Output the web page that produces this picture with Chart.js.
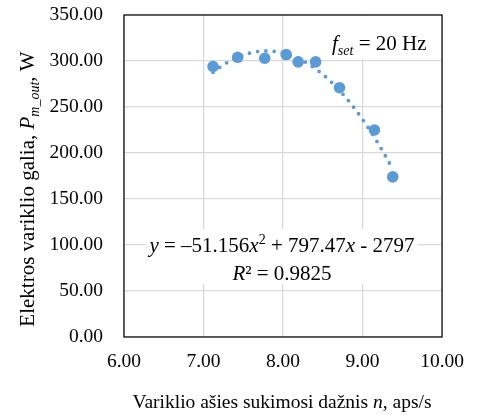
<!DOCTYPE html>
<html><head><meta charset="utf-8">
<script src="https://cdn.jsdelivr.net/npm/chart.js@4"></script>
<style>html,body{margin:0;padding:0;background:#fff}</style>
</head><body>
<canvas id="c" width="477" height="415"></canvas>
<script>
// Measured motor output power vs. shaft rotation frequency (f_set = 20 Hz)
const speedN = [7.12, 7.43, 7.77, 8.04, 8.19, 8.41, 8.71, 9.15, 9.38];
const powerW = [294, 304, 303, 307, 299, 299, 271, 225, 174];
// Quadratic trendline y = a·x² + b·x + c and its R²
const trendCoef = [-51.156, 797.47, -2797];
const trendR2 = 0.9825;
const xTicks = [6, 7, 8, 9, 10];
const yTicks = [0, 50, 100, 150, 200, 250, 300, 350];

const FONT = "'Liberation Serif','Times New Roman',serif";
const FS_TICK = 19.5;
const FS_NOTE = 21;
const BLUE = '#5B9BD5';
const fnt = (s, it) => (it ? 'italic ' : '') + s + 'px ' + FONT;

const trendPts = [];
{
  const x0 = Math.min(...speedN), x1 = Math.max(...speedN), steps = 80;
  for (let i = 0; i <= steps; i++) {
    const x = x0 + (x1 - x0) * i / steps;
    trendPts.push({x, y: trendCoef[0] * x * x + trendCoef[1] * x + trendCoef[2]});
  }
}

function richWidth(ctx, parts, base) {
  let w = 0;
  for (const p of parts) { ctx.font = fnt(p.s || base, p.i); w += ctx.measureText(p.t).width; }
  return w;
}
function drawRich(ctx, parts, x, y, base) {
  for (const p of parts) {
    ctx.font = fnt(p.s || base, p.i);
    ctx.fillText(p.t, x, y + (p.dy || 0));
    x += ctx.measureText(p.t).width;
  }
}

const eqParts = [
  {t: 'y', i: true}, {t: ' = –' + Math.abs(trendCoef[0]).toFixed(3)}, {t: 'x', i: true},
  {t: '2', s: 14, dy: -8}, {t: ' + ' + trendCoef[1].toFixed(2)}, {t: 'x', i: true},
  {t: ' - ' + Math.abs(trendCoef[2])}
];
const r2Parts = [{t: 'R', i: true}, {t: '²'}, {t: ' = ' + trendR2}];
const fsetParts = [{t: 'f', i: true}, {t: 'set', i: true, s: 14, dy: 5}, {t: ' = 20 Hz'}];
const xTitleParts = [{t: 'Variklio ašies sukimosi dažnis '}, {t: 'n', i: true}, {t: ', aps/s'}];
const yTitleParts = [{t: 'Elektros variklio galia, '}, {t: 'P', i: true}, {t: 'm_out', i: true, s: 14, dy: 5}, {t: ', W'}];

const decor = {
  id: 'decor',
  beforeDatasetsDraw(chart) {
    const {ctx, chartArea: ca} = chart;
    ctx.save();
    // plot frame
    ctx.strokeStyle = '#000';
    ctx.lineWidth = 1.2;
    ctx.strokeRect(ca.left, ca.top, ca.right - ca.left, ca.bottom - ca.top);
    ctx.textBaseline = 'alphabetic';
    // trendline label on a white box
    const cx = ca.left + 158;
    const y1 = ca.top + 237, y2 = ca.top + 265;
    const w1 = richWidth(ctx, eqParts, FS_NOTE), w2 = richWidth(ctx, r2Parts, FS_NOTE);
    ctx.fillStyle = '#fff';
    ctx.fillRect(cx - w1 / 2 - 3, y1 - 23, w1 + 6, 55);
    ctx.fillStyle = '#000';
    drawRich(ctx, eqParts, cx - w1 / 2, y1, FS_NOTE);
    drawRich(ctx, r2Parts, cx - w2 / 2, y2, FS_NOTE);
    // set frequency label
    const fx = ca.left + 208, fy = ca.top + 35;
    const wf = richWidth(ctx, fsetParts, FS_NOTE);
    ctx.fillStyle = '#fff';
    ctx.fillRect(fx - 4, ca.top + 1, wf + 8, 43);
    ctx.fillStyle = '#000';
    drawRich(ctx, fsetParts, fx, fy, FS_NOTE);
    ctx.restore();
  },
  afterDraw(chart) {
    const {ctx} = chart;
    ctx.save();
    ctx.fillStyle = '#000';
    const wx = richWidth(ctx, xTitleParts, 19.5);
    drawRich(ctx, xTitleParts, 282 - wx / 2, 408, 19.5);
    const wy = richWidth(ctx, yTitleParts, 21);
    ctx.translate(34, 189);
    ctx.rotate(-Math.PI / 2);
    drawRich(ctx, yTitleParts, -wy / 2, 0, 21);
    ctx.restore();
  }
};

new Chart(document.getElementById('c'), {
  type: 'scatter',
  data: {
    datasets: [
      {
        data: speedN.map((x, i) => ({x, y: powerW[i]})),
        backgroundColor: BLUE, borderColor: BLUE,
        pointRadius: 5.8, pointHoverRadius: 5.8, borderWidth: 0, order: 2
      },
      {
        type: 'line', data: trendPts, showLine: true, pointRadius: 0,
        borderColor: BLUE, borderWidth: 3.8, borderDash: [0, 8.3], borderCapStyle: 'round',
        fill: false, tension: 0, order: 1
      }
    ]
  },
  options: {
    responsive: false, animation: false,
    layout: {padding: {top: 15, right: 33, left: 0, bottom: 0}},
    plugins: {legend: {display: false}, tooltip: {enabled: false}},
    scales: {
      x: {
        type: 'linear', min: 6, max: 10,
        afterBuildTicks: s => { s.ticks = xTicks.map(v => ({value: v})); },
        afterFit: s => { s.height = 78; },
        grid: {color: '#d9d9d9', lineWidth: 1.3, drawTicks: false},
        border: {display: false},
        ticks: {padding: 13, color: '#000', font: {family: FONT, size: FS_TICK},
                callback: v => v.toFixed(2), maxRotation: 0}
      },
      y: {
        type: 'linear', min: 0, max: 350,
        afterBuildTicks: s => { s.ticks = yTicks.map(v => ({value: v})); },
        afterFit: s => { s.width = 124; s.paddingTop = 0; s.paddingBottom = 0; },
        grid: {color: '#d9d9d9', lineWidth: 1.3, drawTicks: false},
        border: {display: false},
        ticks: {padding: 21, color: '#000', font: {family: FONT, size: FS_TICK},
                callback: v => v.toFixed(2)}
      }
    }
  },
  plugins: [decor]
});
</script>
</body></html>
